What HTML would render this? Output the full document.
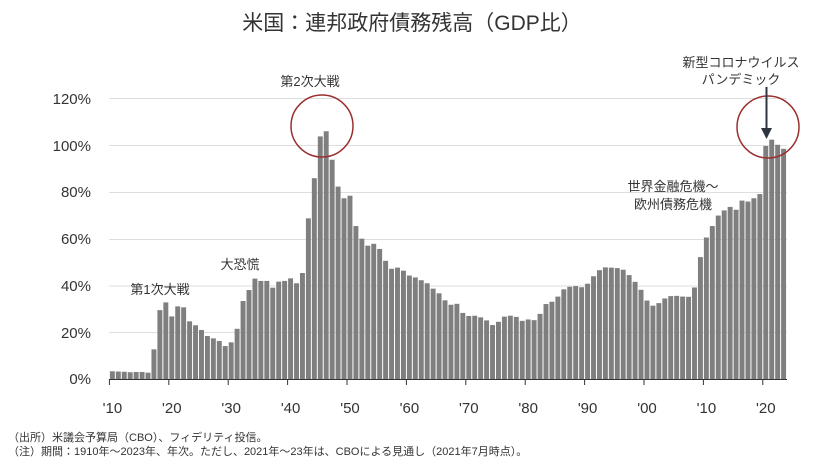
<!DOCTYPE html>
<html><head><meta charset="utf-8"><style>
html,body{margin:0;padding:0;background:#fff;}
svg{display:block;font-family:"Liberation Sans","Noto Sans CJK JP",sans-serif;}
</style></head><body>
<svg id="s" width="825" height="464" viewBox="0 0 825 464" xmlns="http://www.w3.org/2000/svg">
<text x="412" y="30" text-anchor="middle" font-size="21" fill="#333">米国：連邦政府債務残高（GDP比）</text>
<g stroke="#dedede" stroke-width="1">
<line x1="109" x2="787" y1="332.5" y2="332.5"/>
<line x1="109" x2="787" y1="286" y2="286"/>
<line x1="109" x2="787" y1="239.5" y2="239.5"/>
<line x1="109" x2="787" y1="192.5" y2="192.5"/>
<line x1="109" x2="787" y1="145.5" y2="145.5"/>
<line x1="109" x2="787" y1="98.5" y2="98.5"/>
</g>
<g font-size="15" fill="#333" text-anchor="end">
<text x="91" y="384">0%</text>
<text x="91" y="338">20%</text>
<text x="91" y="291">40%</text>
<text x="91" y="244">60%</text>
<text x="91" y="197">80%</text>
<text x="91" y="151">100%</text>
<text x="91" y="104">120%</text>
</g>
<g id="bars" fill="#7f7f7f"></g>
<line x1="109" x2="787" y1="379.5" y2="379.5" stroke="#333" stroke-width="1"/>
<g id="ticks" stroke="#333"></g>
<g id="xl" font-size="15" fill="#333" text-anchor="middle"></g>
<g font-size="13" fill="#333" text-anchor="middle">
<text x="160" y="294">第1次大戦</text>
<text x="240" y="269">大恐慌</text>
<text x="310" y="86">第2次大戦</text>
<text x="673" y="191">世界金融危機～</text>
<text x="673" y="209">欧州債務危機</text>
<text x="741" y="67">新型コロナウイルス</text>
<text x="741" y="84">パンデミック</text>
</g>
<circle cx="322" cy="126" r="31" fill="none" stroke="#9a2f2f" stroke-width="1.5"/>
<circle cx="768" cy="127" r="31" fill="none" stroke="#9a2f2f" stroke-width="1.5"/>
<line x1="766.5" y1="87" x2="766.5" y2="130" stroke="#2f3540" stroke-width="2"/>
<polygon points="761,128 772,128 766.5,139" fill="#2f3540"/>
<g font-size="11" fill="#333">
<text x="8" y="441">（出所）米議会予算局（CBO）、フィデリティ投信。</text>
<text x="8" y="455">（注）期間：1910年～2023年、年次。ただし、2021年～23年は、CBOによる見通し（2021年7月時点）。</text>
</g>
</svg>
<script>
var d=[3.3,3.2,3.1,2.9,3.0,3.0,2.7,12.7,29.5,32.8,26.8,31.1,30.7,24.7,23,21,18.4,17.4,16.3,14.1,15.7,21.5,33.4,38.1,43,42,42,39.1,41.7,42,43.1,41,45.4,68.8,86,103.9,106.1,93.9,82.4,77.4,78.5,65.5,60.1,57.1,57.9,55.7,50.6,47.2,47.7,46.4,44.3,43.5,42.3,41,38.7,36.7,33.7,31.8,32.2,28.3,27,27.1,26.4,25.1,23.1,24.5,26.7,27.1,26.6,24.9,25.5,25.2,27.9,32.1,33.1,35.3,38.4,39.5,39.8,39.3,40.8,44,46.6,47.8,47.7,47.5,46.8,44.5,41.6,38.2,33.6,31.4,32.5,34.5,35.5,35.6,35.3,35.2,39.2,52.2,60.6,65.5,70,72.2,73.7,72.5,76.4,76,77.4,79.2,99.8,102.5,100.3,98.6];
var ns="http://www.w3.org/2000/svg",w=5.94,x0=109.4,g=document.getElementById('bars');
d.forEach(function(v,i){var r=document.createElementNS(ns,'rect');var h=v*2.335;
r.setAttribute('x',x0+i*w+0.5);r.setAttribute('width',w-1);r.setAttribute('y',379-h);r.setAttribute('height',h);g.appendChild(r);});
var t=document.getElementById('ticks'),xl=document.getElementById('xl');
var lab=["'10","'20","'30","'40","'50","'60","'70","'80","'90","'00","'10","'20"];
for(var k=0;k<12;k++){var x=x0+k*10*w;var l=document.createElementNS(ns,'line');
l.setAttribute('x1',x);l.setAttribute('x2',x);l.setAttribute('y1',379);l.setAttribute('y2',385);t.appendChild(l);
var tx=document.createElementNS(ns,'text');tx.setAttribute('x',x+3);tx.setAttribute('y',413);tx.textContent=lab[k];xl.appendChild(tx);}
</script>
</body></html>
